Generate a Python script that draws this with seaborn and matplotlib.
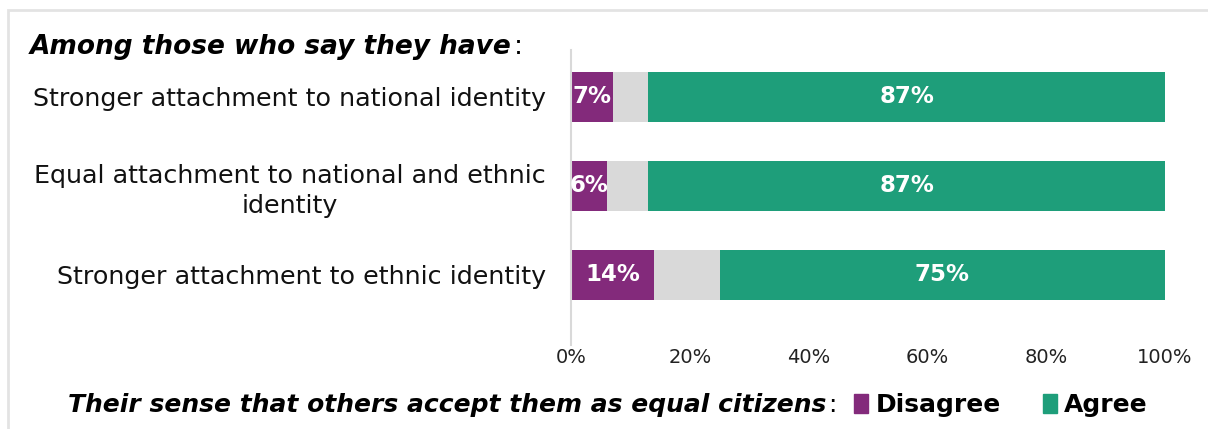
import matplotlib
matplotlib.use("Agg")
import matplotlib.pyplot as plt
from matplotlib.patches import Patch, Rectangle
import seaborn as sns
import pandas as pd

# Survey data: share (%) by attachment group
groups = [
    "Stronger attachment to national identity",
    "Equal attachment to national and ethnic\nidentity",
    "Stronger attachment to ethnic identity",
]
disagree = [7, 6, 14]
neutral = [6, 7, 11]
agree = [87, 87, 75]
ticks = [0, 20, 40, 60, 80, 100]
tick_labels = ["0%", "20%", "40%", "60%", "80%", "100%"]

PURPLE = "#832A7B"
GREY = "#D9D9D9"
GREEN = "#1E9E7A"

sns.set_theme(style="white")
plt.rcParams["font.family"] = ["DejaVu Sans"]

df = pd.DataFrame({"group": groups, "disagree": disagree,
                   "neutral": neutral, "agree": agree})
df["d_n"] = df["disagree"] + df["neutral"]
df["total"] = df["d_n"] + df["agree"]

W, H = 1208, 429
fig = plt.figure(figsize=(W / 100, H / 100), dpi=100)
ax = fig.add_axes([571 / W, 1 - 345 / H, (1165 - 571) / W, (345 - 50) / H])

# Stacked bars drawn as layered cumulative totals
kw = dict(y="group", orient="h", width=0.56, ax=ax, linewidth=0, saturation=1)
sns.barplot(data=df, x="total", color=GREEN, **kw)
sns.barplot(data=df, x="d_n", color=GREY, **kw)
sns.barplot(data=df, x="disagree", color=PURPLE, **kw)

ax.set_xlim(0, 100)
ax.set_ylim(2.787, -0.528)
ax.set_xticks(ticks)
ax.set_xticklabels(tick_labels, fontsize=14, color="#222222")
ax.tick_params(axis="x", length=0, pad=2)
ax.tick_params(axis="y", length=0, pad=18, labelsize=18.3, labelcolor="#111111")
for lab in ax.get_yticklabels():
    lab.set_multialignment("center")
    lab.set_linespacing(1.3)
ax.set_xlabel("")
ax.set_ylabel("")
for s in ["top", "right", "bottom"]:
    ax.spines[s].set_visible(False)
ax.spines["left"].set_color("#D9D9D9")
ax.spines["left"].set_linewidth(1.5)

# Value labels
for i in range(len(groups)):
    ax.text(disagree[i] / 2, i, f"{disagree[i]}%", ha="center", va="center",
            color="white", fontsize=16.5, fontweight="bold", clip_on=True)
    ax.text(df["d_n"][i] + agree[i] / 2, i, f"{agree[i]}%", ha="center",
            va="center", color="white", fontsize=16.5, fontweight="bold")

# Outer frame line (top and left edges)
fig.patches.append(Rectangle((8 / W, -0.2), 1.2, 1.2 - 10 / H,
                             transform=fig.transFigure, fill=False,
                             edgecolor="#E3E3E3", linewidth=2))

renderer = fig.canvas.get_renderer()


def text_with_colon(x_px, y_px, s, size):
    t = fig.text(x_px / W, 1 - y_px / H, s, ha="left", va="center",
                 fontsize=size, fontweight="bold", fontstyle="italic",
                 color="black")
    bb = t.get_window_extent(renderer=renderer)
    fig.text(bb.x1 / W + 2 / W, 1 - y_px / H, ":", ha="left", va="center",
             fontsize=size, color="black")


text_with_colon(30, 47, "Among those who say they have", 19)
text_with_colon(68, 405, "Their sense that others accept them as equal citizens", 18)

handles = [Patch(color=PURPLE, label="Disagree"), Patch(color=GREEN, label="Agree")]
leg = fig.legend(handles=handles, loc="center left",
                 bbox_to_anchor=(854 / W, 1 - 405 / H), ncol=2, frameon=False,
                 handlelength=0.55, handleheight=0.8, handletextpad=0.3,
                 columnspacing=1.7, borderaxespad=0, borderpad=0,
                 prop={"size": 18, "weight": "bold"})
for t in leg.get_texts():
    t.set_color("black")

fig.savefig("out.png", dpi=100, facecolor="white")
